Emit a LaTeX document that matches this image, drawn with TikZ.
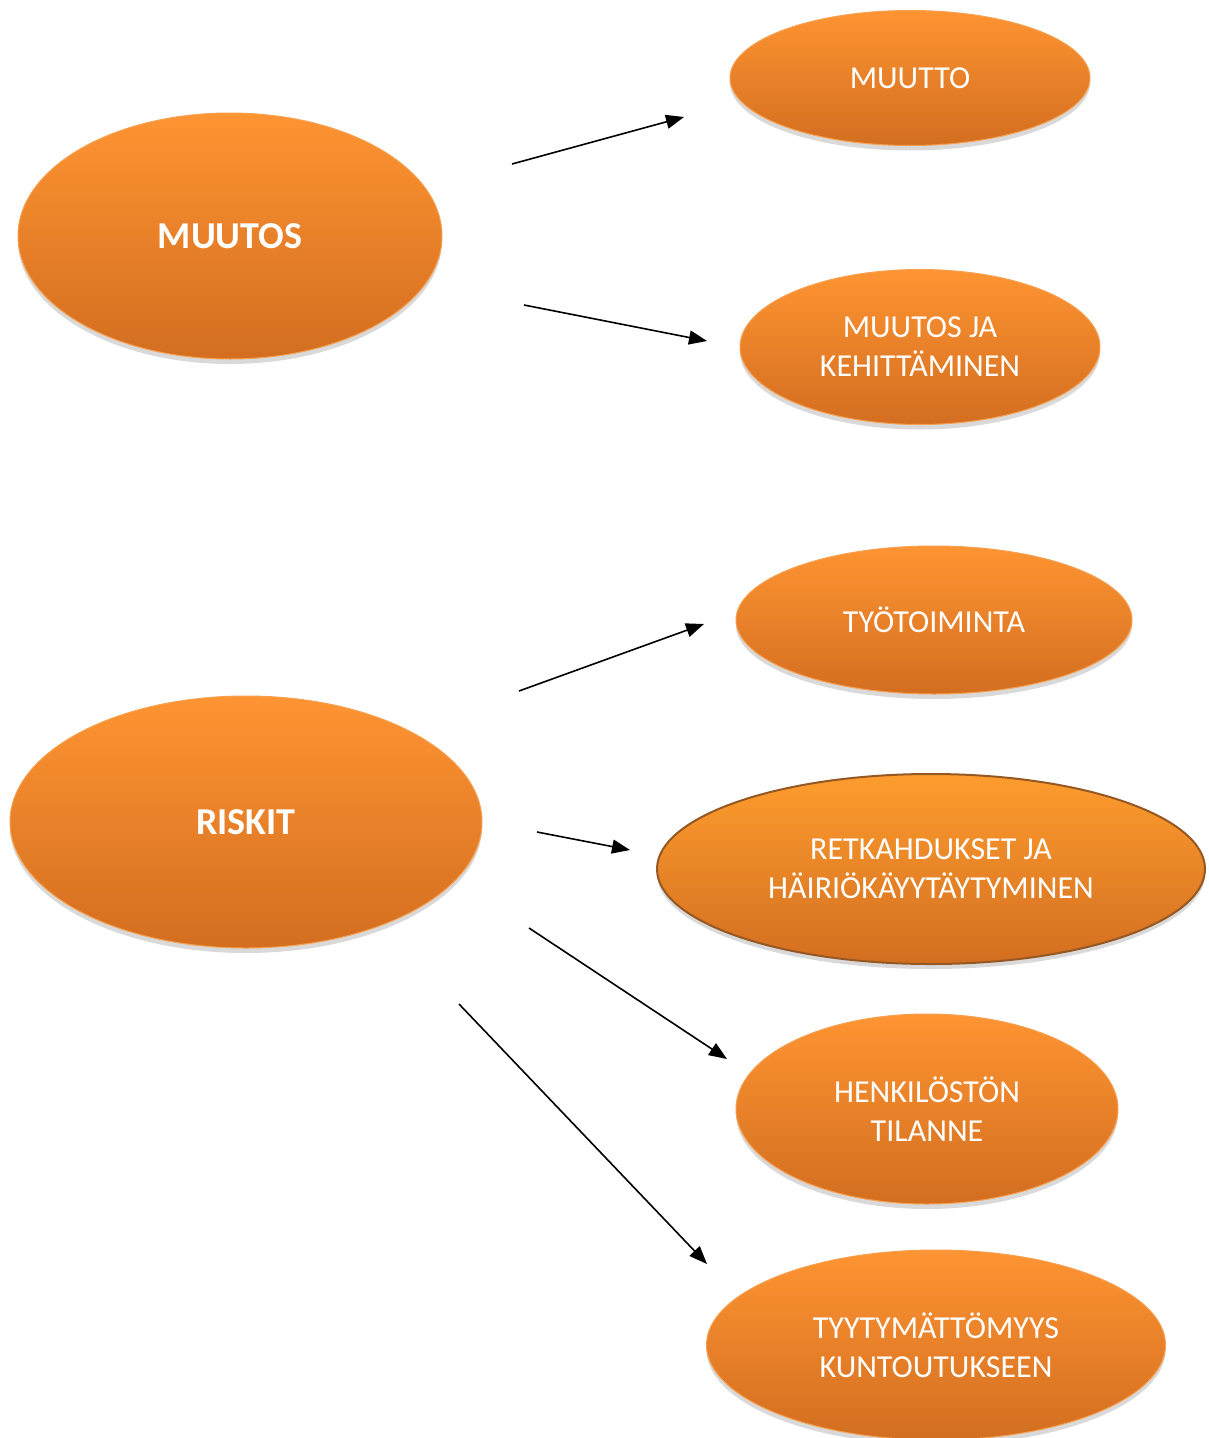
\documentclass[tikz,border=0pt]{standalone}
\usepackage{fontspec}
\setmainfont{Carlito}
\usetikzlibrary{shapes.geometric, positioning, arrows.meta, shadows}
\definecolor{ovaltop}{RGB}{254, 148, 50}
\definecolor{ovalbot}{RGB}{211, 110, 32}
\definecolor{ovaledge}{RGB}{247, 160, 80}
\definecolor{bevelbrown}{RGB}{150, 88, 35}

\begin{document}
\begin{tikzpicture}[x=1pt, y=-1pt,
  oval/.style={ellipse, inner sep=0pt, top color=ovaltop, bottom color=ovalbot,
    draw=ovaledge, line width=1pt, text=white, align=center,
    font=\fontsize{32}{39}\selectfont,
    drop shadow={shadow xshift=0pt, shadow yshift=-5pt, opacity=0.15, fill=black}},
  mainoval/.style={oval, font=\bfseries\fontsize{38}{44}\selectfont},
  bevel/.style={oval, top color=ovaltop!92!yellow, draw=bevelbrown, line width=2pt},
  link/.style={-{Triangle[length=18pt, width=14pt]}, line width=1.6pt, draw=black}
]
  \useasboundingbox (0,0) rectangle (1208,1438);

  \node[mainoval, minimum width=424pt, minimum height=246pt] (muutos) at (230,236) {MUUTOS};
  \node[mainoval, minimum width=472pt, minimum height=252pt] (riskit) at (246,822) {RISKIT};

  \node[oval, minimum width=360pt, minimum height=135pt] (muutto) at (910,78) {MUUTTO};
  \node[oval, minimum width=360pt, minimum height=155pt] (kehitys) at (920,347) {MUUTOS JA\\KEHITTÄMINEN};
  \node[oval, minimum width=396pt, minimum height=148pt] (tyotoiminta) at (934,620) {TYÖTOIMINTA};
  \node[bevel, minimum width=548pt, minimum height=190pt] (retkahdus) at (931,869) {RETKAHDUKSET JA\\HÄIRIÖKÄYYTÄYTYMINEN};
  \node[oval, minimum width=382pt, minimum height=190pt] (henkilosto) at (927,1109) {HENKILÖSTÖN\\TILANNE};
  \node[oval, minimum width=459pt, minimum height=190pt] (tyytymatto) at (936,1345) {TYYTYMÄTTÖMYYS\\KUNTOUTUKSEEN};

  % free arrow ends, the arrows stop short of the ovals
  \coordinate (m1) at (512,164);  \coordinate (m1e) at (684,117);
  \coordinate (m2) at (524,305);  \coordinate (m2e) at (707,341);
  \coordinate (r1) at (519,691);  \coordinate (r1e) at (704,624);
  \coordinate (r2) at (537,832);  \coordinate (r2e) at (630,850);
  \coordinate (r3) at (529,928);  \coordinate (r3e) at (727,1059);
  \coordinate (r4) at (459,1004); \coordinate (r4e) at (707,1264);

  \draw[link] (m1) -- (m1e);
  \draw[link] (m2) -- (m2e);
  \draw[link] (r1) -- (r1e);
  \draw[link] (r2) -- (r2e);
  \draw[link] (r3) -- (r3e);
  \draw[link] (r4) -- (r4e);
\end{tikzpicture}
\end{document}
